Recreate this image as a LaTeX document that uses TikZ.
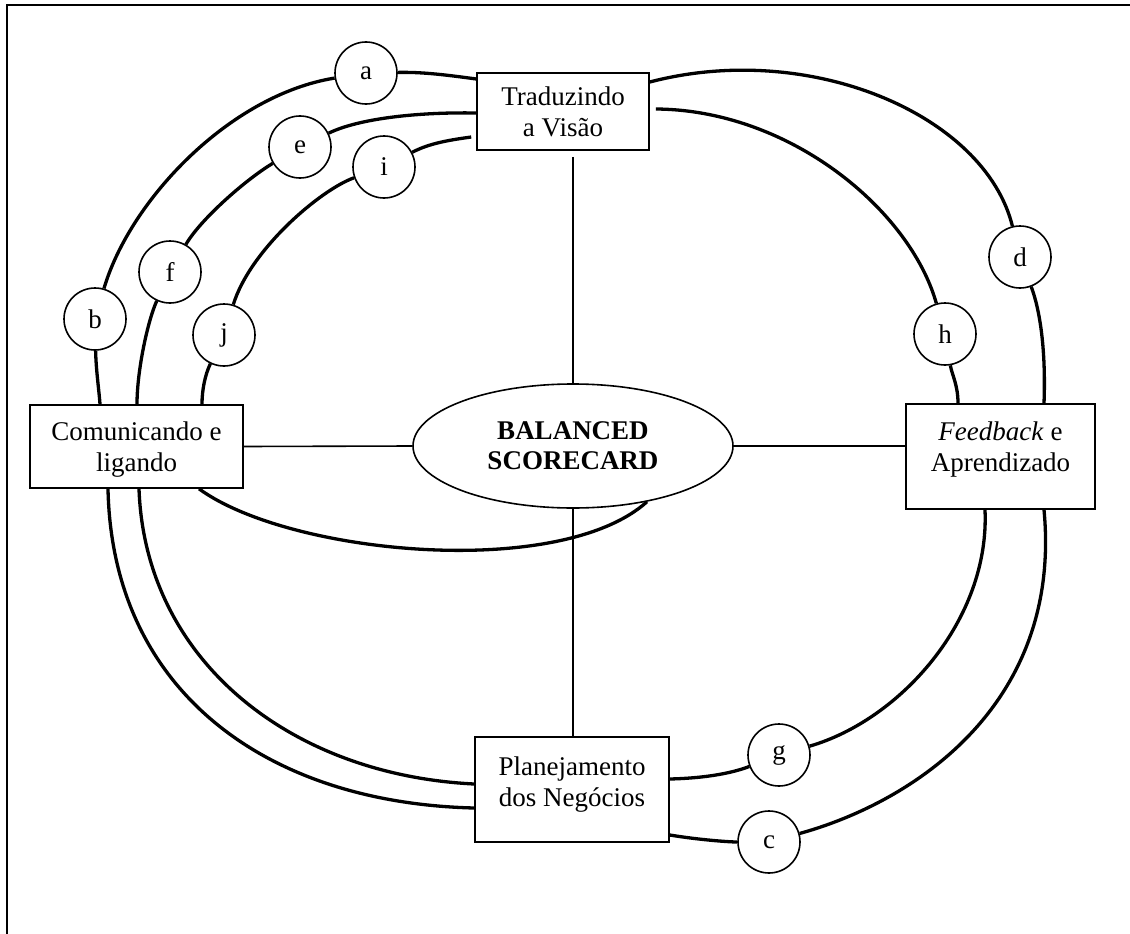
\documentclass[tikz,border=0pt]{standalone}
\usepackage{fontspec}
\setmainfont{Liberation Serif}
\usetikzlibrary{shapes.geometric}
\begin{document}
\begin{tikzpicture}[x=1pt,y=-1pt,
  txt/.style={font={\fontsize{27}{31}\selectfont}, align=center, inner sep=0pt},
  boxframe/.style={draw, line width=1.6pt, inner sep=0pt},
  tag/.style={draw, circle, line width=1.6pt, minimum size=62pt, inner sep=0pt,
              fill=white, font={\fontsize{27}{31}\selectfont}},
  loop/.style={line width=3.3pt},
  spoke/.style={line width=1.6pt}]
\useasboundingbox (0,0) rectangle (1130,934);

% frame
\draw[line width=2pt] (7,934) -- (7,5) -- (1130,5);

% boxes
\node[boxframe, minimum width=172pt, minimum height=77pt] (trad) at (563,111.5) {};
\node[txt] (tradtxt) at (563,112) {Traduzindo\\a Visão};
\node[boxframe, minimum width=213pt, minimum height=83pt] (com) at (136.5,446.5) {};
\node[txt] (comtxt) at (136.5,450) {Comunicando e\\ligando};
\node[boxframe, minimum width=189pt, minimum height=105pt] (fb) at (1000.5,456.5) {};
\node[txt] (fbtxt) at (1000.5,450) {\textit{Feedback} e\\Aprendizado};
\node[boxframe, minimum width=194pt, minimum height=105pt] (plan) at (572,789.5) {};
\node[txt] (plantxt) at (572,785) {Planejamento\\dos Negócios};

% central ellipse
\node[draw, ellipse, line width=1.6pt, minimum width=320pt, minimum height=124pt,
      inner sep=0pt, align=center, font={\fontsize{27}{30}\selectfont\bfseries}]
      (bsc) at (573,446) {BALANCED\\SCORECARD};

% spokes
\draw[spoke] ([yshift=-6pt]bsc.north |- trad.south) -- (bsc.north);
\draw[spoke] (com.east) -- (bsc.west);
\draw[spoke] (bsc.east) -- (bsc.east -| fb.west);
\draw[spoke] (bsc.south) -- (bsc.south |- plan.north);

% letter tags
\node[tag] (a) at (366,73) {a};
\node[tag] (b) at (95,319) {b};
\node[tag] (c) at (769,842) {c};
\node[tag] (d) at (1020,257) {d};
\node[tag] (e) at (300,147) {e};
\node[tag] (f) at (170,272) {f};
\node[tag] (g) at (779,755) {g};
\node[tag] (h) at (945,334) {h};
\node[tag] (i) at (384,167) {i};
\node[tag] (j) at (224,335) {j};

% outer loop
\draw[loop] (trad.west |- 0,79) .. controls (440,74) and (420,72) .. (a);
\draw[loop] (a) .. controls (230,95) and (130,200) .. (b);
\draw[loop] (b) .. controls (96,370) and (99,390) .. (100,0 |- com.north);
\draw[loop] (108,0 |- com.south) .. controls (112,690) and (265,803) .. (plan.west |- 0,808);
\draw[loop] (plan.east |- 0,835) .. controls (700,840) and (730,842) .. (c);
\draw[loop] (c) .. controls (920,800) and (1062,700) .. (1044,0 |- fb.south);
\draw[loop] (trad.east |- 0,82) .. controls (810,40) and (985,115) .. (d);
\draw[loop] (d) .. controls (1040,310) and (1046,350) .. (1044,0 |- fb.north);

% middle loop
\draw[loop] (trad.west |- 0,113) .. controls (420,112) and (360,118) .. (e);
\draw[loop] (e) .. controls (245,180) and (200,220) .. (f);
\draw[loop] (f) .. controls (148,320) and (137,370) .. (137,0 |- com.north);
\draw[loop] (139,0 |- com.south) .. controls (145,660) and (290,775) .. (plan.west |- 0,784);
\draw[loop] (plan.east |- 0,779) .. controls (710,778) and (735,772) .. (g);
\draw[loop] (g) .. controls (900,720) and (990,620) .. (985,0 |- fb.south);
\draw[loop] ([xshift=6pt]trad.east |- 0,109) .. controls (790,110) and (910,210) .. (h);
\draw[loop] (h) .. controls (952,375) and (958,385) .. (958,0 |- fb.north);

% inner loop
\draw[loop] ([xshift=-5pt]trad.west |- 0,137) .. controls (450,140) and (430,143) .. (i);
\draw[loop] (i) .. controls (320,190) and (250,250) .. (j);
\draw[loop] (j) .. controls (205,375) and (202,390) .. (202,0 |- com.north);
\draw[loop] (199,0 |- com.south) .. controls (290,555) and (560,580) .. (bsc.-37);
\end{tikzpicture}
\end{document}
